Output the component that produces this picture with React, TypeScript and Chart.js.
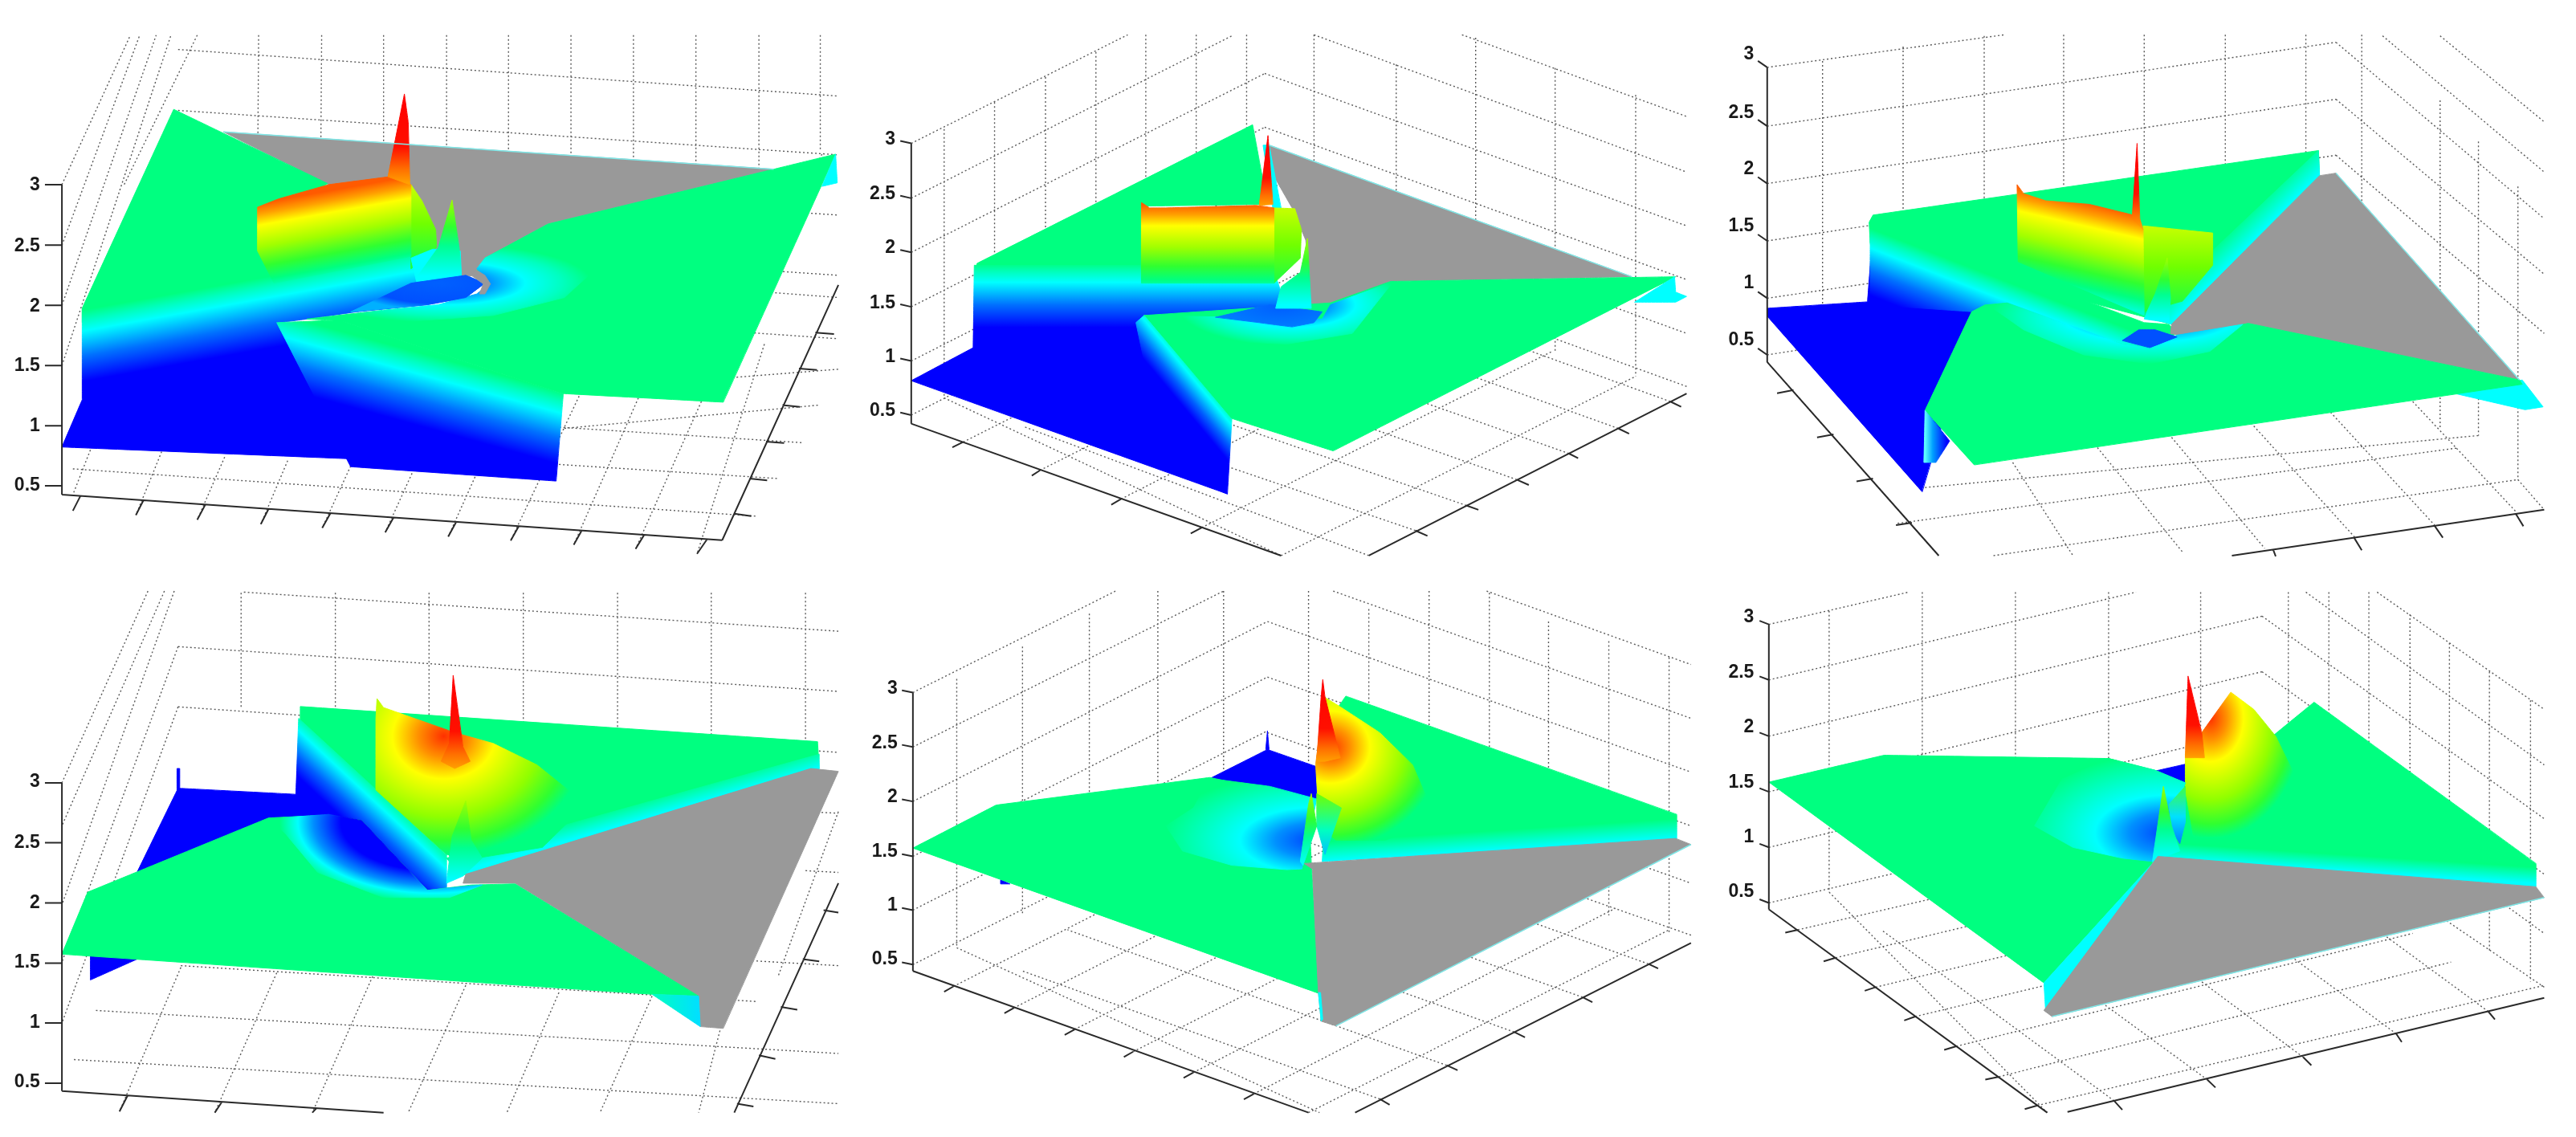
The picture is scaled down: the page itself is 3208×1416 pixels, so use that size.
import React, { useEffect, useRef } from "react";
import { Chart, registerables } from "chart.js";

Chart.register(...registerables);

// All coordinates are in panel units: 0..1568 along both axes of each of the six sub-plots.
const Z_LABELS = ["3", "2.5", "2", "1.5", "1", "0.5"];

const SPRING = "#00ff80", CYAN = "#00ffff", BLUE = "#0000ff", GREY = "#999999";
const R_BAND: any = [[0, "#00ff80"], [0.12, "#00ffc0"], [0.25, "#00ffff"], [0.55, "#0070ff"], [0.85, "#0000ff"], [1, "#0000ff"]];
const R_HUMP: any = [[0, "#ff5a00"], [0.12, "#ffa000"], [0.25, "#ffff00"], [0.5, "#a0ff00"], [0.72, "#30ff30"], [0.88, "#00ff80"], [1, "#00ffd0"]];
const R_SPIKE: any = [[0, "#ff0000"], [0.6, "#ff1000"], [0.85, "#ff7000"], [1, "#ffa000"]];
const R_LENS: any = [[0, "#a0ff00"], [0.35, "#30ff30"], [0.6, "#00ff90"], [1, "#00ffff"]];
const R_SIDE: any = [[0, "#c0ff00"], [0.5, "#70ff00"], [1, "#20ff40"]];
const R_SWIRL: any = [[0, "#0030ff"], [0.3, "#0090ff"], [0.55, "#00ffff"], [0.8, "#00ffc0"], [1, "#00ff80"]];
const R_EDGE: any = [[0, "#00ff80"], [1, "#00ffff"]];
const R_CUT: any = [[0, "#00ff80"], [0.3, "#00ffff"], [0.7, "#0060ff"], [1, "#0000ff"]];
const R_CONE: any = [[0, "#ff3000"], [0.18, "#ff9000"], [0.36, "#ffff00"], [0.68, "#90ff00"], [0.88, "#30ff30"], [1, "#00ff80"]];
const R_RIM: any = [[0, "#0000ff"], [0.6, "#0000ff"], [0.78, "#0090ff"], [0.88, "#00ffff"], [1, "#00ff80"]];
const R_CUP: any = [[0, "#0040ff"], [0.25, "#0090ff"], [0.48, "#00ffff"], [0.8, "#00ffb0"], [1, "#00ff80"]];

/* ---------- panel 1 ---------- */
const P1_Z_TICKS = [515, 684, 852, 1020, 1188, 1355];
const P1_LABELS = [517, 686, 854, 1020, 1188, 1355];
const P1_AXES = [113, 515, 113, 1380, 113, 1380, 1318, 1507, 1318, 1507, 1530, 795, 82, 515, 113, 515, 82, 684, 113, 684, 82, 852, 113, 852, 82, 1020, 113, 1020, 82, 1188, 113, 1188, 82, 1355, 113, 1355, 147, 1383, 133, 1425, 262, 1395, 248, 1437, 375, 1407, 360, 1450, 490, 1420, 476, 1462, 603, 1432, 588, 1473, 718, 1444, 703, 1485, 833, 1455, 818, 1497, 947, 1467, 932, 1508, 1062, 1479, 1047, 1520, 1176, 1491, 1160, 1531, 1291, 1503, 1272, 1545, 1340, 1433, 1371, 1440, 1368, 1335, 1400, 1340, 1398, 1232, 1431, 1236, 1428, 1130, 1460, 1135, 1458, 1028, 1491, 1032, 1488, 928, 1522, 932];
const P1_GRID = [113, 515, 238, 98, 113, 684, 255, 98, 113, 852, 285, 98, 113, 1020, 312, 98, 325, 138, 1530, 268, 325, 308, 1530, 432, 325, 478, 1530, 600, 325, 645, 1530, 768, 360, 98, 225, 520, 472, 98, 470, 520, 587, 98, 585, 520, 700, 98, 700, 520, 815, 98, 815, 520, 928, 98, 928, 520, 1042, 98, 1042, 520, 1156, 98, 1156, 520, 1270, 98, 1270, 520, 1385, 98, 1385, 500, 1497, 98, 1497, 420, 1500, 430, 1340, 960, 133, 1308, 1380, 1440, 150, 1210, 1420, 1335, 180, 1110, 1465, 1235, 1030, 1195, 1495, 1130, 1030, 1090, 1530, 1030, 1340, 925, 1530, 945, 1400, 815, 1530, 830, 165, 1255, 133, 1380, 295, 1260, 248, 1437, 410, 1275, 360, 1450, 525, 1285, 476, 1462, 640, 1300, 588, 1473, 755, 1310, 703, 1485, 870, 1320, 818, 1497, 1060, 1095, 932, 1508, 1165, 1110, 1047, 1520, 1280, 1120, 1160, 1531, 1395, 960, 1272, 1545];
const P1_GREY = [408, 368, 1412, 472, 1000, 625, 885, 720, 870, 755, 860, 770, 840, 770, 750, 700, 600, 515];
const P1_GREY_TAIL = [868, 752, 885, 768, 895, 792, 885, 820, 875, 820, 882, 792, 860, 768];
const P1_RIM = [408, 368, 1412, 472];
const P1_GREEN_L = [317, 305, 598, 512, 520, 600, 520, 900, 150, 900, 150, 860];
const P1_BAND = [150, 862, 750, 700, 760, 770, 850, 770, 880, 795, 850, 830, 780, 850, 650, 870, 560, 890, 510, 900, 640, 1280, 113, 1247, 150, 1115];
const P1_CUT = [505, 900, 620, 893, 1028, 1098, 1015, 1342, 640, 1302];
const P1_GREEN_R = [620, 893, 1028, 1098, 1320, 1122, 1525, 430, 1412, 472, 1000, 625, 885, 720, 870, 755, 895, 790, 880, 820, 780, 860];
const P1_SWIRL = [1000, 628, 1060, 690, 1080, 760, 1030, 830, 900, 880, 760, 895, 620, 895, 560, 890, 700, 865, 800, 850, 870, 820, 895, 790, 870, 750, 885, 720];
const P1_HUMP = [470, 578, 508, 555, 600, 515, 710, 493, 750, 515, 750, 715, 500, 790, 470, 700];
const P1_SIDE = [750, 515, 770, 560, 795, 640, 797, 690, 750, 750];
const P1_SPIKE = [708, 493, 738, 262, 745, 340, 748, 515];
const P1_CORE = [750, 720, 790, 695, 840, 700, 842, 770, 760, 785];
const P1_LENS = [760, 775, 800, 690, 825, 558, 838, 690, 842, 770];
const P1_VORTEX = [640, 870, 750, 790, 850, 768, 885, 790, 850, 830, 780, 850];
const P1_FLAP = [1525, 430, 1528, 510, 1500, 520];

/* ---------- panel 2 ---------- */
const P2_Z_TICKS = [400, 553, 704, 856, 1007, 1158];
const P2_LABELS = [388, 542, 692, 846, 996, 1146];
const P2_AXES = [95, 400, 95, 1182, 95, 1182, 770, 1550, 930, 1550, 1510, 1098, 75, 393, 95, 400, 75, 546, 95, 553, 75, 697, 95, 704, 75, 849, 95, 856, 75, 1000, 95, 1007, 75, 1151, 95, 1158, 190, 1233, 170, 1248, 330, 1312, 315, 1327, 478, 1392, 460, 1408, 625, 1472, 605, 1488, 1480, 1120, 1500, 1135, 1385, 1195, 1405, 1210, 1295, 1265, 1312, 1278, 1200, 1338, 1222, 1353, 1108, 1410, 1130, 1422, 1015, 1480, 1037, 1495];
const P2_GRID = [95, 400, 490, 97, 95, 553, 680, 100, 95, 704, 740, 205, 95, 856, 740, 355, 95, 1007, 740, 505, 95, 1158, 740, 655, 740, 205, 1510, 630, 830, 97, 1510, 480, 1100, 97, 1510, 325, 740, 355, 1510, 780, 740, 505, 1510, 930, 155, 360, 155, 1110, 247, 285, 247, 1040, 340, 215, 340, 970, 432, 145, 432, 900, 523, 97, 523, 830, 615, 97, 615, 760, 707, 97, 707, 690, 830, 97, 830, 740, 980, 180, 980, 820, 1125, 105, 1125, 900, 1270, 190, 1270, 980, 1417, 265, 1417, 1050, 155, 1110, 770, 1550, 190, 1233, 830, 740, 330, 1312, 970, 820, 478, 1392, 1110, 900, 625, 1472, 1265, 980, 770, 1550, 1417, 1050, 1510, 1078, 1270, 945, 1480, 1120, 900, 800, 1385, 1195, 800, 875, 1295, 1265, 700, 945, 1200, 1338, 600, 1015, 1108, 1410, 500, 1090, 1015, 1480, 400, 1160, 930, 1550, 300, 1190];
const P2_GREY = [748, 405, 1410, 772, 970, 785, 860, 850, 845, 890, 825, 865, 815, 670, 790, 580, 760, 500];
const P2_RIM = [748, 405, 1410, 772];
const P2_GREEN_L = [215, 735, 718, 348, 745, 570, 515, 575, 515, 780, 210, 780];
const P2_SLIVER = [737, 405, 748, 405, 770, 580, 755, 580];
const P2_BAND = [210, 740, 515, 740, 760, 770, 790, 905, 830, 895, 520, 880, 672, 1378, 95, 1062, 208, 970];
const P2_GREEN_R = [520, 880, 675, 1165, 865, 1258, 1490, 772, 970, 785, 860, 845];
const P2_CUT = [520, 880, 680, 1170, 672, 1378, 560, 1300, 505, 900];
const P2_SWIRL = [520, 880, 640, 950, 780, 960, 900, 930, 975, 785, 860, 850, 845, 890];
const P2_VORTEX = [650, 885, 750, 850, 845, 870, 830, 900, 790, 912, 730, 900];
const P2_HUMP = [515, 565, 530, 580, 560, 580, 725, 573, 757, 580, 757, 790, 515, 790];
const P2_SIDE = [757, 580, 795, 582, 807, 640, 805, 720, 757, 790];
const P2_SPIKE = [730, 573, 746, 378, 755, 570];
const P2_LENS = [770, 800, 805, 760, 818, 665, 825, 860, 760, 860];
const P2_FLAP = [1488, 772, 1490, 815, 1510, 827, 1490, 843, 1415, 843];

/* ---------- panel 3 ---------- */
const P3_Z_TICKS = [188, 352, 512, 672, 832, 990];
const P3_LABELS = [152, 316, 472, 632, 790, 950];
const P3_AXES = [92, 188, 92, 1010, 92, 1010, 405, 1550, 940, 1550, 1510, 1422, 75, 170, 92, 188, 75, 334, 92, 352, 75, 494, 92, 512, 75, 654, 92, 672, 75, 814, 92, 832, 75, 972, 92, 990, 140, 1088, 110, 1097, 213, 1212, 183, 1220, 285, 1335, 255, 1343, 356, 1458, 327, 1465, 1015, 1532, 1020, 1552, 1163, 1500, 1177, 1535, 1310, 1467, 1325, 1500, 1458, 1433, 1472, 1468];
const P3_GRID = [92, 188, 525, 97, 92, 352, 1130, 118, 92, 512, 1130, 277, 92, 672, 1130, 433, 92, 832, 280, 790, 92, 990, 280, 945, 1130, 118, 1510, 610, 1215, 100, 1510, 480, 1130, 277, 1510, 765, 1130, 433, 1510, 930, 1320, 100, 1510, 340, 193, 170, 193, 945, 340, 130, 340, 800, 488, 100, 488, 760, 633, 97, 633, 720, 780, 97, 780, 720, 928, 97, 928, 700, 1075, 97, 1075, 660, 1177, 97, 1177, 600, 1320, 280, 1320, 1195, 1390, 395, 1390, 1215, 1462, 520, 1462, 1340, 505, 1550, 1462, 1338, 330, 1460, 1350, 1250, 380, 1360, 1390, 1215, 1462, 1338, 1510, 1422, 540, 1290, 650, 1550, 690, 1240, 850, 1540, 830, 1220, 1000, 1530, 975, 1180, 1165, 1500, 1120, 1150, 1310, 1465, 1270, 1120, 1460, 1430, 92, 1010, 405, 1550];
const P3_BLUE = [92, 860, 92, 882, 375, 1372, 470, 880, 780, 960, 285, 640, 275, 842];
const P3_GREEN_T = [278, 620, 285, 600, 1098, 420, 1100, 490, 830, 905, 770, 880, 280, 680];
const P3_BAND = [280, 625, 290, 620, 780, 900, 825, 905, 840, 930, 790, 970, 740, 960, 530, 845, 500, 850, 470, 870, 280, 850];
const P3_RIGHT = [780, 880, 1098, 420, 1100, 490, 830, 905];
const P3_HUMP = [548, 515, 560, 540, 600, 560, 680, 570, 760, 600, 778, 640, 780, 880, 550, 730];
const P3_SIDE = [778, 630, 905, 650, 905, 740, 850, 840, 780, 870];
const P3_SPIKE = [758, 610, 767, 400, 772, 610, 778, 640];
const P3_LENS = [785, 870, 800, 820, 822, 720, 828, 830, 825, 900, 780, 890];
const P3_GREY = [1100, 490, 1130, 483, 1465, 1060, 970, 902, 860, 940, 828, 930, 830, 905];
const P3_RIM = [1130, 483, 1465, 1060];
const P3_GREEN_B = [465, 870, 490, 850, 525, 850, 740, 960, 790, 970, 840, 935, 860, 935, 970, 902, 1465, 1060, 1470, 1072, 470, 1297, 380, 1145];
const P3_SWIRL = [495, 850, 530, 845, 740, 960, 790, 970, 840, 935, 960, 905, 900, 980, 790, 1015, 670, 990, 560, 920];
const P3_VORTEX = [740, 950, 770, 920, 800, 920, 840, 940, 790, 970];
const P3_NOTCH = [380, 1145, 425, 1230, 400, 1290, 378, 1290];
const P3_FLAP = [1345, 1097, 1470, 1060, 1508, 1135, 1475, 1143];

/* ---------- panel 4 ---------- */
const P4_Z_TICKS = [580, 747, 915, 1083, 1250, 1418];
const P4_LABELS = [578, 747, 915, 1082, 1250, 1416];
const P4_AXES = [113, 580, 113, 1440, 113, 1440, 700, 1500, 1530, 860, 1340, 1500, 82, 580, 113, 580, 82, 747, 113, 747, 82, 915, 113, 915, 82, 1083, 113, 1083, 82, 1250, 113, 1250, 82, 1418, 113, 1418, 233, 1452, 218, 1497, 405, 1470, 392, 1500, 578, 1487, 570, 1500, 1503, 935, 1530, 942, 1465, 1072, 1495, 1078, 1425, 1205, 1455, 1213, 1385, 1340, 1415, 1350, 1345, 1475, 1375, 1483];
const P4_GRID = [270, 45, 113, 580, 300, 45, 113, 700, 318, 45, 113, 920, 325, 200, 113, 1080, 325, 368, 113, 1250, 445, 48, 1530, 157, 325, 200, 1530, 325, 325, 368, 1530, 495, 1470, 660, 1530, 665, 1470, 825, 1530, 830, 1300, 1070, 1530, 1090, 330, 1090, 1380, 1190, 175, 1215, 1530, 1335, 135, 1352, 1530, 1475, 440, 50, 440, 370, 612, 50, 612, 400, 783, 50, 783, 400, 955, 50, 955, 450, 1127, 50, 1127, 450, 1298, 50, 1298, 460, 1470, 50, 1470, 470, 330, 1095, 218, 1497, 505, 1110, 392, 1500, 680, 1120, 570, 1500, 850, 1145, 745, 1500, 1020, 1165, 925, 1500, 1190, 1175, 1095, 1500, 1360, 1000, 1275, 1500, 1530, 660, 1420, 1120];
const P4_BLUE = [325, 595, 540, 612, 660, 680, 250, 830];
const P4_BLUE_LOW = [165, 1060, 165, 1130, 250, 1072];
const P4_BLUE_TICK = [323, 540, 328, 540, 328, 595, 323, 600];
const P4_GREEN_T = [548, 367, 1492, 465, 1495, 540, 840, 840, 815, 770, 548, 430];
const P4_BAND = [545, 400, 815, 780, 815, 880, 780, 880, 595, 670, 540, 612];
const P4_CYAN = [815, 790, 1495, 500, 1495, 545, 855, 835, 820, 800];
const P4_HUMP = [688, 345, 700, 370, 830, 440, 900, 470, 980, 530, 1045, 610, 1050, 670, 990, 760, 870, 790, 815, 780, 686, 600, 686, 400];
const P4_SPIKE = [820, 470, 827, 280, 845, 480, 858, 520, 830, 540, 805, 520];
const P4_LENS = [815, 860, 825, 730, 850, 630, 860, 740, 880, 790, 845, 840];
const P4_GREY = [850, 835, 1480, 540, 1530, 548, 1320, 1265, 1278, 1260, 1275, 1175, 940, 860, 845, 860];
const P4_GREEN_B = [113, 1058, 160, 885, 490, 678, 600, 670, 660, 685, 780, 880, 860, 865, 940, 862, 1275, 1175, 1190, 1170];
const P4_SWIRL = [490, 680, 600, 668, 660, 685, 780, 880, 840, 870, 880, 865, 820, 900, 700, 900, 580, 830, 520, 720];
const P4_FLAP = [1190, 1170, 1275, 1175, 1278, 1260];

/* ---------- panel 5 ---------- */
const P5_Z_TICKS = [328, 480, 632, 785, 935, 1087];
const P5_LABELS = [317, 470, 620, 773, 922, 1073];
const P5_AXES = [98, 328, 98, 1105, 98, 1105, 820, 1500, 905, 1500, 1518, 1027, 78, 322, 98, 328, 78, 474, 98, 480, 78, 626, 98, 632, 78, 779, 98, 785, 78, 929, 98, 935, 78, 1081, 98, 1087, 172, 1148, 155, 1163, 282, 1208, 265, 1223, 393, 1268, 375, 1283, 500, 1330, 483, 1345, 610, 1388, 592, 1403, 720, 1448, 702, 1463, 1440, 1085, 1458, 1098, 1320, 1178, 1338, 1192, 1195, 1275, 1215, 1290, 1072, 1368, 1092, 1382, 950, 1462, 968, 1478];
const P5_GRID = [98, 328, 468, 45, 98, 480, 665, 45, 98, 632, 745, 130, 98, 785, 745, 285, 98, 935, 745, 435, 98, 1087, 745, 590, 745, 130, 1518, 550, 865, 45, 1518, 400, 1145, 45, 1518, 250, 745, 285, 1518, 700, 745, 440, 1518, 860, 178, 290, 178, 1040, 298, 200, 298, 950, 420, 108, 420, 860, 545, 45, 545, 770, 665, 45, 665, 700, 820, 45, 820, 640, 930, 95, 930, 700, 1040, 45, 1040, 760, 1150, 50, 1150, 820, 1258, 130, 1258, 880, 1368, 185, 1368, 950, 1478, 230, 1478, 1000, 178, 1040, 840, 1500, 1518, 1005, 745, 590, 1440, 1085, 700, 680, 1320, 1178, 600, 785, 1195, 1275, 480, 885, 1072, 1368, 380, 990, 950, 1462, 298, 1105, 172, 1148, 800, 660, 282, 1208, 950, 690, 393, 1268, 1060, 750, 500, 1330, 1170, 810, 610, 1388, 1270, 875, 720, 1448, 1380, 930, 820, 1500, 1478, 990];
const P5_BLUE = [640, 568, 745, 487, 835, 535, 835, 625, 760, 605];
const P5_BLUE_TICK = [742, 487, 745, 435, 748, 487];
const P5_BLUE_LOW = [258, 850, 258, 862, 275, 862];
const P5_GREEN_R = [888, 338, 1492, 668, 1492, 740, 845, 800, 860, 400];
const P5_GREEN_M = [98, 762, 250, 642, 640, 565, 760, 605, 820, 620, 825, 800, 840, 1168];
const P5_CUP = [560, 700, 610, 650, 640, 568, 750, 590, 835, 625, 808, 820, 780, 822, 680, 810, 590, 770];
const P5_HUMP = [848, 340, 880, 370, 950, 440, 1010, 530, 1035, 620, 1030, 700, 960, 740, 870, 740, 840, 700, 833, 530];
const P5_SPIKE = [843, 340, 846, 292, 850, 340, 878, 510, 850, 520, 835, 520];
const P5_LENS_A = [805, 800, 820, 640, 825, 610, 835, 700, 810, 810];
const P5_LENS_B = [835, 610, 880, 650, 850, 780, 835, 700];
const P5_GREY = [812, 805, 1490, 735, 1518, 752, 870, 1258, 843, 1245, 838, 1165, 827, 820];
const P5_STRIP = [838, 1165, 843, 1245, 846, 1240, 842, 1165];
const P5_RIM = [870, 1258, 1518, 752];

/* ---------- panel 6 ---------- */
const P6_Z_TICKS = [138, 293, 450, 605, 760, 915];
const P6_LABELS = [117, 272, 425, 580, 732, 885];
const P6_AXES = [95, 138, 95, 933, 95, 933, 603, 1500, 640, 1498, 1510, 1180, 78, 128, 95, 138, 78, 283, 95, 293, 78, 440, 95, 450, 78, 595, 95, 605, 78, 750, 95, 760, 78, 905, 95, 915, 148, 990, 125, 998, 217, 1068, 195, 1078, 290, 1150, 270, 1160, 362, 1232, 342, 1243, 437, 1315, 415, 1325, 515, 1400, 490, 1408, 585, 1480, 562, 1490, 725, 1467, 740, 1492, 895, 1408, 910, 1430, 1070, 1345, 1085, 1368, 1240, 1280, 1250, 1303, 1408, 1218, 1420, 1240];
const P6_GRID = [95, 138, 350, 48, 95, 293, 765, 48, 95, 450, 995, 115, 95, 605, 995, 270, 95, 760, 995, 430, 95, 915, 995, 590, 995, 115, 1510, 680, 1075, 48, 1510, 530, 1205, 48, 1510, 375, 995, 270, 1510, 835, 995, 430, 1510, 1000, 205, 100, 205, 885, 375, 48, 375, 830, 545, 48, 545, 780, 715, 48, 715, 720, 883, 48, 883, 660, 1043, 48, 1043, 660, 1117, 48, 1117, 650, 1190, 48, 1190, 700, 1265, 110, 1265, 800, 1337, 190, 1337, 900, 1410, 270, 1410, 1050, 1485, 350, 1485, 1135, 205, 885, 603, 1500, 1510, 1150, 1000, 620, 1408, 1218, 1000, 760, 1240, 1280, 830, 820, 1070, 1345, 660, 880, 895, 1408, 480, 945, 725, 1467, 300, 990, 148, 990, 995, 690, 217, 1068, 1060, 760, 290, 1150, 1130, 840, 362, 1232, 1200, 925, 437, 1315, 1270, 1000, 515, 1400, 1340, 1080, 585, 1480, 1510, 1145];
const P6_BLUE = [800, 547, 855, 528, 855, 580, 830, 570];
const P6_GREEN_R = [885, 440, 1018, 445, 1090, 355, 1495, 805, 1495, 870, 800, 785, 850, 600];
const P6_HUMP = [885, 440, 938, 327, 980, 375, 1020, 450, 1055, 560, 1060, 620, 1040, 690, 1000, 730, 870, 730, 855, 600, 855, 500];
const P6_SPIKE = [855, 510, 860, 282, 885, 440, 890, 510];
const P6_GREEN_M = [95, 578, 305, 503, 715, 512, 800, 545, 855, 580, 795, 805, 597, 1138];
const P6_CUP = [580, 700, 630, 570, 715, 512, 800, 545, 855, 580, 800, 800, 740, 790, 650, 760];
const P6_LENS_A = [795, 800, 815, 590, 830, 700, 845, 770, 810, 790];
const P6_LENS_B = [825, 640, 855, 590, 855, 690, 845, 750, 830, 710];
const P6_STRIP = [597, 1138, 795, 805, 805, 800, 600, 1215];
const P6_GREY = [805, 785, 1495, 870, 1510, 900, 612, 1232, 597, 1215];
const P6_RIM = [612, 1232, 1510, 900];

type Paint = any;
const lin = (x0: number, y0: number, x1: number, y1: number, dx: number, dy: number, stops: any) => ({ lin: [x0, y0, x1, y1, dx, dy], stops });
const ell = (cx: number, cy: number, rx: number, ry: number, stops: any) => ({ ell: [cx, cy, rx, ry], stops });

const PANELS: any[] = [
  { left: 0, top: 0, ticks: P1_Z_TICKS, labels: P1_LABELS, labelX: 73, grid: P1_GRID, axes: P1_AXES, layers: [
    [P1_GREY, GREY], [P1_GREEN_L, SPRING], [P1_BAND, lin(150, 865, 150, 1100, 600, -165, R_BAND)],
    [P1_GREEN_R, SPRING], [P1_SWIRL, ell(810, 790, 270, 110, R_SWIRL)], [P1_CUT, lin(780, 990, 780, 1230, 500, 210, R_BAND)],
    [P1_SIDE, lin(760, 530, 760, 720, 1, 0, R_SIDE)], [P1_HUMP, lin(480, 565, 480, 810, 220, -60, R_HUMP)],
    [P1_SPIKE, lin(740, 262, 740, 510, 1, 0, R_SPIKE)], [P1_CORE, CYAN], [P1_LENS, lin(825, 558, 825, 770, 1, 0, R_LENS)],
    [P1_VORTEX, ell(800, 790, 170, 75, [[0, "#0060ff"], [0.75, "#0050ff"], [1, "#00b0ff"]])],
    [P1_GREY_TAIL, GREY], [P1_FLAP, CYAN]], rims: [P1_RIM] },
  { left: 1070, top: 0, ticks: P2_Z_TICKS, labels: P2_LABELS, labelX: 66, grid: P2_GRID, axes: P2_AXES, layers: [
    [P2_GREY, GREY], [P2_GREEN_L, SPRING], [P2_SLIVER, CYAN], [P2_BAND, lin(400, 735, 400, 945, 1, 0, R_BAND)],
    [P2_GREEN_R, SPRING], [P2_CUT, lin(610, 1010, 540, 1040, 155, 285, R_CUT)], [P2_SWIRL, ell(790, 850, 210, 115, R_SWIRL)],
    [P2_VORTEX, ell(770, 860, 130, 60, [[0, "#0060ff"], [1, "#0080ff"]])],
    [P2_SIDE, lin(780, 590, 780, 780, 1, 0, R_SIDE)], [P2_HUMP, lin(500, 570, 500, 810, 1000, 0, R_HUMP)],
    [P2_SPIKE, lin(745, 378, 745, 575, 1, 0, R_SPIKE)], [P2_LENS, lin(820, 665, 820, 850, 1, 0, R_LENS)], [P2_FLAP, CYAN]], rims: [P2_RIM] },
  { left: 2138, top: 0, ticks: P3_Z_TICKS, labels: P3_LABELS, labelX: 68, grid: P3_GRID, axes: P3_AXES, layers: [
    [P3_BLUE, BLUE], [P3_GREEN_T, SPRING], [P3_BAND, lin(285, 640, 285, 860, 495, 295, R_BAND)],
    [P3_RIGHT, lin(960, 600, 1025, 600, 270, -415, R_EDGE)], [P3_SIDE, lin(840, 640, 840, 850, 1, 0, R_SIDE)],
    [P3_HUMP, lin(548, 520, 548, 790, 230, 80, R_HUMP)], [P3_SPIKE, lin(765, 400, 765, 635, 1, 0, R_SPIKE)],
    [P3_LENS, lin(820, 720, 820, 890, 1, 0, R_LENS)], [P3_FLAP, CYAN], [P3_GREY, GREY], [P3_GREEN_B, SPRING],
    [P3_SWIRL, ell(790, 880, 290, 135, R_SWIRL)], [P3_VORTEX, "#0050ff"],
    [P3_NOTCH, lin(380, 1200, 420, 1200, 0, 1, [[0, "#60ffff"], [0.35, "#00a0ff"], [1, "#0000ff"]])]], rims: [P3_RIM] },
  { left: 0, top: 716, ticks: P4_Z_TICKS, labels: P4_LABELS, labelX: 73, grid: P4_GRID, axes: P4_AXES, layers: [
    [P4_BLUE_TICK, BLUE], [P4_BLUE, BLUE], [P4_BLUE_LOW, BLUE], [P4_GREEN_T, SPRING],
    [P4_BAND, lin(700, 600, 570, 600, 270, 385, R_CUT)], [P4_CYAN, lin(1490, 485, 1490, 540, 680, -300, R_EDGE)],
    [P4_HUMP, ell(810, 450, 260, 330, R_CONE)], [P4_SPIKE, lin(830, 280, 830, 540, 1, 0, R_SPIKE)],
    [P4_LENS, lin(850, 630, 850, 850, 1, 0, R_LENS)], [P4_GREY, GREY], [P4_GREEN_B, SPRING],
    [P4_SWIRL, ell(790, 690, 280, 225, R_RIM)], [P4_FLAP, lin(1190, 1200, 1275, 1200, 0, 1, [[0, "#00ffc0"], [1, "#00e0ff"]])]], rims: [] },
  { left: 1070, top: 716, ticks: P5_Z_TICKS, labels: P5_LABELS, labelX: 70, grid: P5_GRID, axes: P5_AXES, layers: [
    [P5_BLUE_TICK, BLUE], [P5_BLUE, BLUE], [P5_BLUE_LOW, BLUE], [P5_GREEN_R, lin(1490, 680, 1490, 735, 600, -60, R_EDGE)],
    [P5_HUMP, ell(860, 480, 200, 280, R_CONE)], [P5_SPIKE, lin(846, 292, 846, 520, 1, 0, R_SPIKE)],
    [P5_GREEN_M, SPRING], [P5_CUP, ell(830, 740, 280, 190, R_CUP)],
    [P5_LENS_B, lin(850, 610, 850, 780, 1, 0, [[0, "#70ff00"], [0.6, "#00ffc0"], [1, "#00c0ff"]])],
    [P5_LENS_A, lin(820, 610, 820, 810, 1, 0, R_LENS)], [P5_GREY, GREY], [P5_STRIP, CYAN]], rims: [P5_RIM] },
  { left: 2138, top: 716, ticks: P6_Z_TICKS, labels: P6_LABELS, labelX: 68, grid: P6_GRID, axes: P6_AXES, layers: [
    [P6_BLUE, BLUE], [P6_GREEN_R, lin(1490, 815, 1490, 860, 700, 70, R_EDGE)], [P6_HUMP, ell(900, 400, 170, 335, R_CONE)],
    [P6_SPIKE, lin(865, 282, 865, 510, 1, 0, R_SPIKE)], [P6_GREEN_M, SPRING], [P6_CUP, ell(820, 720, 270, 220, R_CUP)],
    [P6_LENS_B, lin(840, 590, 840, 760, 1, 0, [[0, "#40ff40"], [0.5, "#00e0ff"], [1, "#0070ff"]])],
    [P6_LENS_A, lin(815, 590, 815, 790, 1, 0, R_LENS)], [P6_STRIP, CYAN], [P6_GREY, GREY]], rims: [P6_RIM] },
];

const toPoints = (flat: number[], close = false) => {
  const out: any[] = [];
  for (let i = 0; i < flat.length; i += 2) out.push({ x: flat[i], y: flat[i + 1] });
  if (close) out.push({ x: flat[0], y: flat[1] });
  return out;
};
const toSegments = (flat: number[]) => {
  const out: any[] = [];
  for (let i = 0; i < flat.length; i += 4) {
    out.push({ x: flat[i], y: flat[i + 1] }, { x: flat[i + 2], y: flat[i + 3] }, { x: null, y: null });
  }
  return out;
};

const paintCache = new WeakMap<object, any>();
function resolvePaint(chart: any, paint: Paint) {
  if (typeof paint === "string") return paint;
  const sx = chart.scales.x, sy = chart.scales.y;
  if (!sx || !sx.width) return paint.stops[0][1];
  if (paintCache.has(paint)) return paintCache.get(paint);
  const px = (v: number) => sx.getPixelForValue(v);
  const py = (v: number) => sy.getPixelForValue(v);
  let result: any;
  if (paint.lin) {
    const [x0, y0, x1, y1, dx, dy] = paint.lin;
    const ax = px(x0), ay = py(y0), bx = px(x1), by = py(y1);
    const ix = px(dx) - px(0), iy = py(dy) - py(0);
    const nx = -iy, ny = ix;
    const k = ((bx - ax) * nx + (by - ay) * ny) / (nx * nx + ny * ny);
    const g = chart.ctx.createLinearGradient(ax, ay, ax + nx * k, ay + ny * k);
    paint.stops.forEach((s: any) => g.addColorStop(s[0], s[1]));
    result = g;
  } else {
    const [cx, cy, rx, ry] = paint.ell;
    const off = document.createElement("canvas");
    off.width = chart.width;
    off.height = chart.height;
    const c = off.getContext("2d") as CanvasRenderingContext2D;
    c.translate(px(cx), py(cy));
    c.scale(Math.abs(px(rx) - px(0)), Math.abs(py(ry) - py(0)));
    const g = c.createRadialGradient(0, 0, 0, 0, 0, 1);
    paint.stops.forEach((s: any) => g.addColorStop(s[0], s[1]));
    c.fillStyle = g;
    c.fillRect(-50, -50, 100, 100);
    result = chart.ctx.createPattern(off, "no-repeat");
  }
  paintCache.set(paint, result);
  return result;
}

const zLabelPlugin = {
  id: "zLabels",
  afterDatasetsDraw(chart: any, _a: any, opts: any) {
    const { ctx, scales } = chart;
    ctx.save();
    ctx.font = "bold 23px 'Liberation Sans', Arial, sans-serif";
    ctx.fillStyle = "#1a1a1a";
    ctx.textAlign = "right";
    ctx.textBaseline = "middle";
    Z_LABELS.forEach((t, i) => ctx.fillText(t, scales.x.getPixelForValue(opts.x), scales.y.getPixelForValue(opts.ys[i])));
    ctx.restore();
  },
};

function Panel({ spec }: { spec: any }) {
  const ref = useRef<HTMLCanvasElement>(null);
  useEffect(() => {
    const datasets: any[] = [];
    datasets.push({ data: toSegments(spec.grid), showLine: true, pointRadius: 0, borderColor: "#5a5a5a", borderWidth: 1.4, borderDash: [2, 3], fill: false, spanGaps: false });
    spec.layers.forEach(([pts, paint]: any) => {
      datasets.push({
        data: toPoints(pts, true), showLine: true, pointRadius: 0, fill: "shape", tension: 0.0001, borderWidth: 1,
        backgroundColor: (c: any) => resolvePaint(c.chart, paint),
        borderColor: (c: any) => resolvePaint(c.chart, paint),
      });
    });
    spec.rims.forEach((pts: number[]) => {
      datasets.push({ data: toPoints(pts), showLine: true, pointRadius: 0, borderColor: "#7fe8e8", borderWidth: 1.5, fill: false });
    });
    datasets.push({ data: toSegments(spec.axes), showLine: true, pointRadius: 0, borderColor: "#2a2a2a", borderWidth: 2, fill: false, spanGaps: false });
    datasets.forEach((d, i) => (d.order = -i));
    const chart = new Chart(ref.current as HTMLCanvasElement, {
      type: "scatter",
      data: { datasets },
      plugins: [zLabelPlugin],
      options: {
        animation: false,
        responsive: false,
        layout: { padding: 0 },
        events: [],
        plugins: { legend: { display: false }, tooltip: { enabled: false }, zLabels: { x: spec.labelX, ys: spec.labels } },
        scales: {
          x: { type: "linear", min: 0, max: 1568, display: false },
          y: { type: "linear", min: 0, max: 1568, reverse: true, display: false },
        },
      } as any,
    });
    return () => chart.destroy();
  }, [spec]);
  return (
    <canvas ref={ref} width={1070} height={700}
      style={{ position: "absolute", left: spec.left, top: spec.top, width: 1070, height: 700, filter: "blur(0.6px)" }} />
  );
}

export default function App() {
  return (
    <div style={{ position: "absolute", left: 0, top: 0, width: 3208, height: 1416, background: "#fff", overflow: "hidden" }}>
      {PANELS.map((p, i) => <Panel key={i} spec={p} />)}
    </div>
  );
}
